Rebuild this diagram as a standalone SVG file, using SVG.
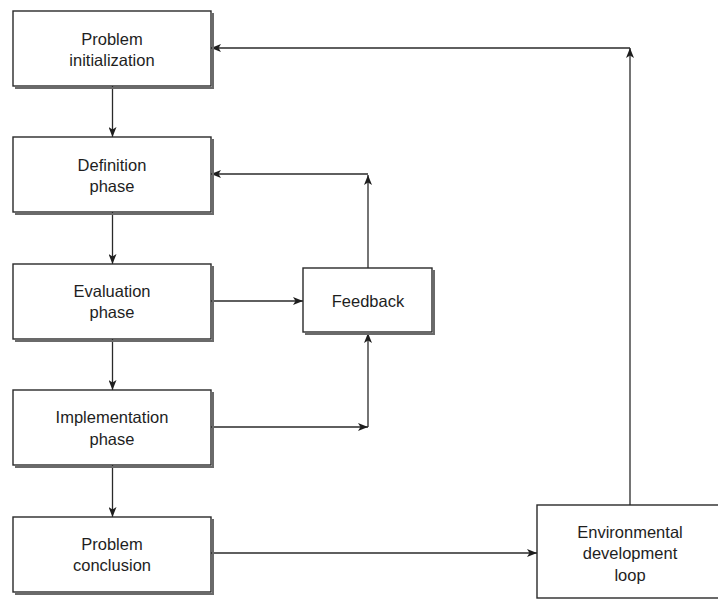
<svg xmlns="http://www.w3.org/2000/svg" width="718" height="600" viewBox="0 0 718 600">
<style>
.box{fill:#fff;stroke:#2a2a2a;stroke-width:1.4}
.shadow{fill:none;stroke:#6a6a6a;stroke-width:2}
.lbl{font-family:"Liberation Sans",Arial,sans-serif;font-size:16.5px;fill:#1e1e1e;text-anchor:middle}
.con{fill:none;stroke:#2a2a2a;stroke-width:1.3}
</style>
<defs>
<marker id="ah" viewBox="0 0 10 8" refX="10" refY="4" markerWidth="10" markerHeight="8" markerUnits="userSpaceOnUse" orient="auto">
<path d="M0,0 L10,4 L0,8 L2.5,4 Z" fill="#1e1e1e"/>
</marker>
</defs>
<rect width="718" height="600" fill="#fff"/>
<g id="connectors">
<line class="con" x1="112.5" y1="86" x2="112.5" y2="137" marker-end="url(#ah)"/>
<line class="con" x1="112.5" y1="212" x2="112.5" y2="264" marker-end="url(#ah)"/>
<line class="con" x1="112.5" y1="339" x2="112.5" y2="390" marker-end="url(#ah)"/>
<line class="con" x1="112.5" y1="465" x2="112.5" y2="517" marker-end="url(#ah)"/>
<line class="con" x1="211" y1="301" x2="303" y2="301" marker-end="url(#ah)"/>
<line class="con" x1="211" y1="427" x2="368" y2="427" marker-end="url(#ah)"/>
<line class="con" x1="368" y1="427" x2="368" y2="333" marker-end="url(#ah)"/>
<line class="con" x1="368" y1="268" x2="368" y2="175" marker-end="url(#ah)"/>
<line class="con" x1="368" y1="174" x2="211" y2="174" marker-end="url(#ah)"/>
<line class="con" x1="211" y1="553" x2="537" y2="553" marker-end="url(#ah)"/>
<line class="con" x1="630" y1="505" x2="630" y2="48" marker-end="url(#ah)"/>
<line class="con" x1="630" y1="48" x2="211" y2="48" marker-end="url(#ah)"/>
</g>
<g id="problem-initialization">
<polyline class="shadow" points="213,13 213,88 15,88"/>
<rect class="box" x="13" y="11" width="198" height="75"/>
<text class="lbl" x="112" y="45">Problem</text>
<text class="lbl" x="112" y="66">initialization</text>
</g>
<g id="definition-phase">
<polyline class="shadow" points="213,139 213,214 15,214"/>
<rect class="box" x="13" y="137" width="198" height="75"/>
<text class="lbl" x="112" y="171">Definition</text>
<text class="lbl" x="112" y="192">phase</text>
</g>
<g id="evaluation-phase">
<polyline class="shadow" points="213,266 213,341 15,341"/>
<rect class="box" x="13" y="264" width="198" height="75"/>
<text class="lbl" x="112" y="297">Evaluation</text>
<text class="lbl" x="112" y="318">phase</text>
</g>
<g id="implementation-phase">
<polyline class="shadow" points="213,392 213,467 15,467"/>
<rect class="box" x="13" y="390" width="198" height="75"/>
<text class="lbl" x="112" y="423">Implementation</text>
<text class="lbl" x="112" y="445">phase</text>
</g>
<g id="problem-conclusion">
<polyline class="shadow" points="213,519 213,594 15,594"/>
<rect class="box" x="13" y="517" width="198" height="75"/>
<text class="lbl" x="112" y="550">Problem</text>
<text class="lbl" x="112" y="571">conclusion</text>
</g>
<g id="feedback">
<polyline class="shadow" points="434,270 434,334 305,334"/>
<rect class="box" x="303" y="268" width="129" height="64"/>
<text class="lbl" x="368" y="307">Feedback</text>
</g>
<g id="environmental-development-loop">
<rect class="box" x="537" y="505" width="200" height="93"/>
<text class="lbl" x="630" y="538">Environmental</text>
<text class="lbl" x="630" y="559">development</text>
<text class="lbl" x="630" y="581">loop</text>
</g>
</svg>
